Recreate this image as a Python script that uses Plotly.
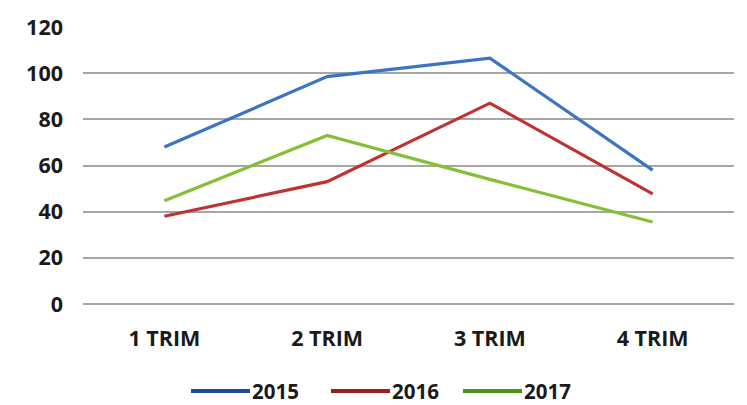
import plotly.graph_objects as go

categories = ["1 TRIM", "2 TRIM", "3 TRIM", "4 TRIM"]
series_names = ["2015", "2016", "2017"]
values_2015 = [68, 98.5, 106.5, 58]
values_2016 = [38, 53, 87, 47.7]
values_2017 = [44.7, 73, 54, 35.5]
y_ticks = [0, 20, 40, 60, 80, 100, 120]

line_colors = ["#3a74c2", "#bf3232", "#84bf35"]
legend_colors = ["#1f4a9c", "#9a1f1f", "#4f8f1f"]

W, H = 747, 405
L, R, T, B = 83, 13, 27, 101
pw, ph = W - L - R, H - T - B

font_family = "Open Sans"
txt_color = "#1a1a1a"
fs = 21.5
legend_fs = 20.5

fig = go.Figure()
for name, vals, col in zip(series_names, [values_2015, values_2016, values_2017], line_colors):
    fig.add_trace(go.Scatter(x=categories, y=vals, mode="lines", name=name,
                             line=dict(color=col, width=3.2), showlegend=False))

fig.update_layout(
    width=W, height=H,
    margin=dict(l=L, r=R, t=T, b=B),
    paper_bgcolor="white", plot_bgcolor="white",
    font=dict(family=font_family, size=fs, color=txt_color, weight="bold"),
    xaxis=dict(type="category", range=[-0.5, 3.5], automargin=False,
               showgrid=False, showline=False, zeroline=False,
               ticks="", ticklabelstandoff=19,
               tickfont=dict(family=font_family, size=fs, color=txt_color, weight="bold")),
    yaxis=dict(range=[0, 120], tickvals=y_ticks, automargin=False,
               showgrid=True, gridcolor="#a6a6a6",
               gridwidth=2, zeroline=True, zerolinecolor="#a6a6a6", zerolinewidth=2,
               showline=False, ticks="",
               ticklabelstandoff=19,
               tickfont=dict(family=font_family, size=fs, color=txt_color, weight="bold")),
)

# custom legend below plot
legend_y_px = 391
ly = (T + ph - legend_y_px) / ph
starts_px = [191, 331, 463]
seg_len = 59
for name, col, sx in zip(series_names, legend_colors, starts_px):
    x0 = (sx - L) / pw
    x1 = (sx + seg_len - L) / pw
    fig.add_shape(type="line", xref="paper", yref="paper", x0=x0, x1=x1, y0=ly, y1=ly,
                  line=dict(color=col, width=4))
    fig.add_annotation(xref="paper", yref="paper", x=x1, y=ly, text=name, showarrow=False,
                       xanchor="left", yanchor="middle", xshift=1, height=20, borderpad=0,
                       font=dict(family=font_family, size=legend_fs, color=txt_color, weight="bold"))

fig.write_html("out.html", config={"displayModeBar": False},
               post_script="document.body.style.margin='0';document.body.style.overflow='hidden';")
